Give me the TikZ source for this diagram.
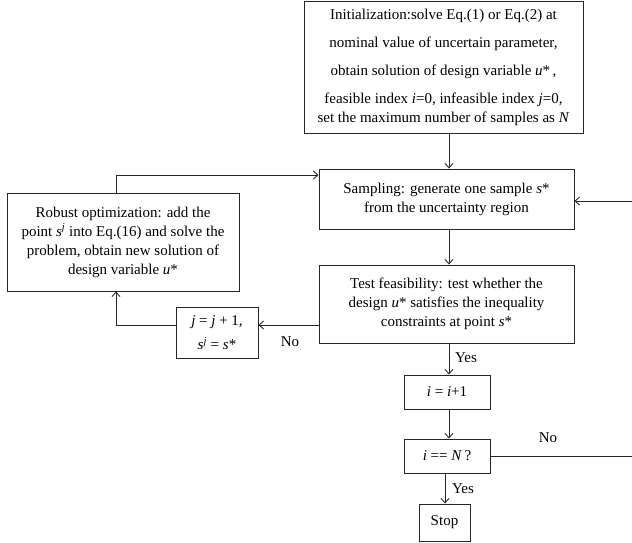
\documentclass[tikz,border=0pt]{standalone}
\usepackage{fontspec}
\setmainfont{Liberation Serif}
\usetikzlibrary{arrows.meta,calc}
\begin{document}
\begin{tikzpicture}[x=1pt,y=-1pt,
  box/.style={draw=black!85, line width=0.9pt, rectangle, inner sep=0pt, align=center, font=\fontsize{15}{19}\selectfont},
  arr/.style={draw=black!85, line width=0.9pt, -{Straight Barb[length=4.5pt,width=8pt,line width=0.9pt]}},
  ln/.style={draw=black!85, line width=0.9pt},
  lbl/.style={font=\fontsize{15}{17}\selectfont, inner sep=0pt}]
\useasboundingbox (0,0) rectangle (632,543);
\node[box, minimum width=279, minimum height=132] (init) at (443.5,67)
 {Initialization:solve Eq.(1) or Eq.(2) at\\[9pt]
  nominal value of uncertain parameter,\\[9pt]
  obtain solution of design variable \textit{u}*\,,\\[9pt]
  feasible index \textit{i}=0, infeasible index \textit{j}=0,\\
  set the maximum number of samples as \textit{N}};
\node[box, minimum width=255, minimum height=60] (samp) at (446.5,199)
 {Sampling: generate one sample \textit{s}*\\from the uncertainty region};
\node[box, minimum width=232, minimum height=98] (rob) at (123,242)
 {Robust optimization: add the\\point \textit{s}\textsuperscript{\textit{j}} into Eq.(16) and solve the\\problem, obtain new solution of\\design variable \textit{u}*};
\node[box, minimum width=82, minimum height=51] (jb) at (217,332.5)
 {\textit{j} = \textit{j} + 1,\\[5pt]\textit{s}\textsuperscript{\textit{j}} = \textit{s}*};
\node[box, minimum width=255, minimum height=78] (test) at (446.5,304)
 {Test feasibility: test whether the\\design \textit{u}* satisfies the inequality\\constraints at point \textit{s}*};
\node[box, minimum width=86, minimum height=34] (ib) at (447,392) {\textit{i} = \textit{i}+1};
\node[box, minimum width=86, minimum height=34] (iN) at (447,456) {\textit{i} == \textit{N}\,?};
\node[box, minimum width=51, minimum height=37] (stop) at (444.5,522.5) {Stop};
\coordinate (ax) at (449,0);
\coordinate (ry) at (116,175);
\coordinate (re1) at (632,201);
\coordinate (ny) at (0,325);
\coordinate (re2) at (632,456);
\coordinate (sx) at (445,0);
\draw[arr] (init.south -| ax) -- (samp.north -| ax);
\draw[arr] (rob.north -| ry) |- (samp.west |- ry);
\draw[arr] (re1) -- (samp.east |- re1);
\draw[arr] (samp.south -| ax) -- (test.north -| ax);
\draw[arr] (test.west |- ny) -- (jb.east |- ny);
\draw[arr] (jb.west |- ny) -| (rob.south -| ry);
\draw[arr] (test.south -| ax) -- (ib.north -| ax);
\draw[arr] (ib.south -| ax) -- (iN.north -| ax);
\draw[ln] (iN.east |- re2) -- (re2);
\draw[arr] (iN.south -| sx) -- (stop.north -| sx);
\node[lbl] (no1) at (290,342) {No};
\node[lbl] (yes1) at (466,358) {Yes};
\node[lbl] (no2) at (548,438) {No};
\node[lbl] (yes2) at (463,489) {Yes};
\end{tikzpicture}
\end{document}
